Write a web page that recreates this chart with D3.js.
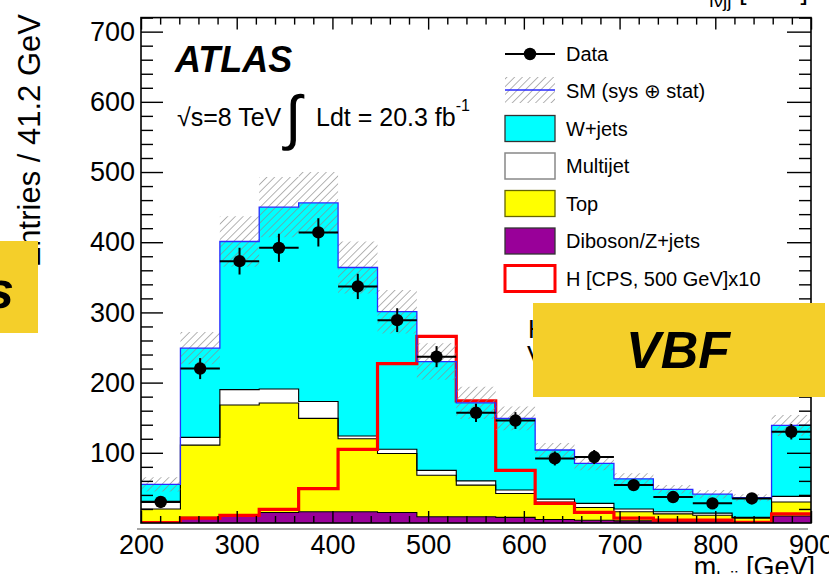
<!DOCTYPE html>
<html><head><meta charset="utf-8">
<script src="https://cdn.jsdelivr.net/npm/d3@7"></script>
<style>
body{margin:0;background:#fff;}
svg{display:block;}
text{font-family:"Liberation Sans",Arial,Helvetica,sans-serif;}
</style></head>
<body>
<svg id="chart" width="829" height="574"></svg>
<script>
// ---------- data ----------
const binEdges = [200, 241.2, 282.4, 323.5, 364.7, 405.9, 447.1, 488.2, 529.4, 570.6, 611.8, 652.9, 694.1, 735.3, 776.5, 817.6, 858.8, 900];
const diboson  = [1, 8, 11, 15, 16, 16, 15, 9, 9, 8, 5, 4, 3, 3, 3, 2, 10];
const topQuark = [19, 103, 157, 156, 133, 104, 84, 59, 45, 34, 25, 18, 13, 10, 8, 5, 20];
const multijet = [11, 11, 22, 20, 24, 4, 6, 7, 6, 5, 4, 6, 4, 3, 3, 1, 8];
const wjets    = [24, 127, 211, 259, 283, 240, 196, 155, 111, 102, 70, 57, 43, 32, 27, 28, 101];
const smErr    = [10, 23, 36, 43, 44, 37, 31, 26, 23, 17, 10, 10, 8, 6, 6, 5, 15];
const dataVals = [30, 220, 373, 392, 414, 337, 289, 237, 157, 146, 92, 94, 54, 37, 28, 35, 130];
const dataErr  = [6, 15, 19, 20, 20, 18, 17, 15, 13, 12, 10, 10, 7, 6, 5, 6, 11];
const signalX10 = [0.5, 7, 11, 19.5, 49, 105, 227, 266, 174, 75, 28, 15, 7, 4, 4, 1, 13];
const xTicks = [200, 300, 400, 500, 600, 700, 800, 900];
const yTicks = [100, 200, 300, 400, 500, 600, 700];
const legendLabels = ["Data", "SM (sys \u2295 stat)", "W+jets", "Multijet", "Top", "Diboson/Z+jets", "H [CPS, 500 GeV]x10"];
const stackKeys = ["diboson", "top", "multijet", "wjets"];
const stackColors = {diboson: "#990099", top: "#ffff00", multijet: "#ffffff", wjets: "#00ffff"};

// ---------- layout ----------
const svg = d3.select("#chart");
svg.append("rect").attr("width", 829).attr("height", 574).attr("fill", "#fff");
const X0 = 141, X1 = 811, Y0 = 523, Y1 = 17.6;
const x = d3.scaleLinear().domain([200, 900]).range([X0, X1]);
const y = d3.scaleLinear().domain([0, 720]).range([Y0, Y1]);

const defs = svg.append("defs");
const pat = defs.append("pattern").attr("id", "hatch").attr("patternUnits", "userSpaceOnUse")
  .attr("width", 5.5).attr("height", 5.5).attr("patternTransform", "rotate(45)");
pat.append("line").attr("x1", 0).attr("y1", 0).attr("x2", 0).attr("y2", 5.5)
  .attr("stroke", "#8c8c8c").attr("stroke-width", 1.3);
defs.append("clipPath").attr("id", "frameclip").append("rect")
  .attr("x", X0).attr("y", Y1).attr("width", X1 - X0).attr("height", Y0 - Y1);

const bins = binEdges.slice(0, -1).map((lo, i) => ({
  lo, hi: binEdges[i + 1],
  diboson: diboson[i], top: topQuark[i], multijet: multijet[i], wjets: wjets[i],
  err: smErr[i], data: dataVals[i], derr: dataErr[i], sig: signalX10[i]
}));
bins.forEach(b => b.total = b.diboson + b.top + b.multijet + b.wjets);

const series = d3.stack().keys(stackKeys)(bins);
const stepPts = (f0, f1) => bins.flatMap((b, i) => [
  {x: b.lo, y0: f0(b, i), y1: f1(b, i)}, {x: b.hi, y0: f0(b, i), y1: f1(b, i)}]);
const area = d3.area().x(d => x(d.x)).y0(d => y(d.y0)).y1(d => y(d.y1));
const line = d3.line().x(d => x(d.x)).y(d => y(d.y1));

const plot = svg.append("g").attr("clip-path", "url(#frameclip)");

series.forEach(s => {
  const pts = stepPts((b, i) => s[i][0], (b, i) => s[i][1]);
  plot.append("path").attr("d", area(pts)).attr("fill", stackColors[s.key]);
});
series.forEach(s => {
  if (s.key === "wjets") return;
  const pts = stepPts((b, i) => s[i][0], (b, i) => s[i][1]);
  plot.append("path").attr("d", line(pts)).attr("fill", "none").attr("stroke", "#000").attr("stroke-width", 1.1);
});

// signal
plot.append("path").attr("d", line(stepPts(b => 0, b => b.sig)))
  .attr("fill", "none").attr("stroke", "#ff0000").attr("stroke-width", 3.2).attr("stroke-linejoin", "miter");

// hatch band
plot.append("path").attr("d", area(stepPts(b => b.total - b.err, b => b.total + b.err)))
  .attr("fill", "url(#hatch)");
// total line
plot.append("path").attr("d", line(stepPts(b => 0, b => b.total)))
  .attr("fill", "none").attr("stroke", "#2a2aff").attr("stroke-width", 1.3);

// data
const dg = plot.append("g");
bins.forEach(b => {
  const cx = x((b.lo + b.hi) / 2);
  dg.append("line").attr("x1", x(b.lo)).attr("x2", x(b.hi)).attr("y1", y(b.data)).attr("y2", y(b.data))
    .attr("stroke", "#000").attr("stroke-width", 2);
  dg.append("line").attr("x1", cx).attr("x2", cx).attr("y1", y(b.data - b.derr)).attr("y2", y(b.data + b.derr))
    .attr("stroke", "#000").attr("stroke-width", 2);
  dg.append("circle").attr("cx", cx).attr("cy", y(b.data)).attr("r", 6.2).attr("fill", "#000");
});

// ---------- axes (ticks inside frame) ----------
function styleAxis(g) {
  g.select(".domain").remove();
  g.selectAll(".tick line").attr("stroke", "#000").attr("stroke-width", 1.4);
  g.selectAll("text").attr("font-family", '"Liberation Sans",Arial,sans-serif').attr("font-size", 27).attr("fill", "#000");
}
const xMinor = d3.range(200, 901, 20).filter(v => v % 100 !== 0);
const yMinor = d3.range(0, 721, 20).filter(v => v % 100 !== 0);

svg.append("g").attr("transform", `translate(0,${Y0})`)
  .call(d3.axisBottom(x).tickValues(xTicks).tickSize(-12).tickPadding(12).tickFormat(d3.format("d"))).call(styleAxis);
svg.append("g").attr("transform", `translate(0,${Y0})`)
  .call(d3.axisBottom(x).tickValues(xMinor).tickSize(-7).tickFormat("")).call(styleAxis);
svg.append("g").attr("transform", `translate(0,${Y1})`)
  .call(d3.axisTop(x).tickValues(xTicks).tickSize(-12).tickFormat("")).call(styleAxis);
svg.append("g").attr("transform", `translate(0,${Y1})`)
  .call(d3.axisTop(x).tickValues(xMinor).tickSize(-7).tickFormat("")).call(styleAxis);
svg.append("g").attr("transform", `translate(${X0},0)`)
  .call(d3.axisLeft(y).tickValues(yTicks).tickSize(-22).tickPadding(6).tickFormat(d3.format("d"))).call(styleAxis);
svg.append("g").attr("transform", `translate(${X0},0)`)
  .call(d3.axisLeft(y).tickValues(yMinor).tickSize(-12).tickFormat("")).call(styleAxis);
svg.append("g").attr("transform", `translate(${X1},0)`)
  .call(d3.axisRight(y).tickValues(yTicks).tickSize(-24).tickFormat("")).call(styleAxis);
svg.append("g").attr("transform", `translate(${X1},0)`)
  .call(d3.axisRight(y).tickValues(yMinor).tickSize(-12).tickFormat("")).call(styleAxis);

svg.append("rect").attr("x", X0).attr("y", Y1).attr("width", X1 - X0).attr("height", Y0 - Y1)
  .attr("fill", "none").attr("stroke", "#000").attr("stroke-width", 1.6);
svg.append("line").attr("x1", 137).attr("x2", 808).attr("y1", 529).attr("y2", 529)
  .attr("stroke", "#8a8a8a").attr("stroke-width", 1.5);

// axis titles
svg.append("text").attr("transform", "translate(40,14) rotate(-90)").attr("text-anchor", "end")
  .attr("font-size", 31).text("Entries / 41.2 GeV");
const xt = svg.append("text").attr("x", 815).attr("y", 576).attr("text-anchor", "end").attr("font-size", 27);
xt.append("tspan").text("m");
xt.append("tspan").attr("font-size", 19).attr("dy", 8).text("l\u03bdjj");
xt.append("tspan").attr("dy", -8).text(" [GeV]");
const tt = svg.append("text").attr("x", 808).attr("y", -1).attr("text-anchor", "end").attr("font-size", 27);
tt.append("tspan").text("m");
tt.append("tspan").attr("font-size", 19).attr("dy", 8).text("l\u03bdjj");
tt.append("tspan").attr("dy", -8).text(" [GeV]");

// ATLAS label
svg.append("text").attr("x", 175).attr("y", 72).attr("font-size", 36).attr("font-weight", "bold")
  .attr("font-style", "italic").text("ATLAS");
const lum = svg.append("text").attr("x", 177).attr("y", 126).attr("font-size", 25);
lum.append("tspan").text("\u221as=8 TeV ");
svg.append("text").attr("x", 285).attr("y", 138).attr("font-size", 60).attr("font-family", '"DejaVu Sans",sans-serif').text("\u222b");
const lum2 = svg.append("text").attr("x", 316).attr("y", 126).attr("font-size", 25);
lum2.append("tspan").text("Ldt = 20.3 fb");
lum2.append("tspan").attr("font-size", 16).attr("dy", -15).text("-1");

// legend
const lg = svg.append("g");
const ly = [54, 91, 128.5, 166, 203.5, 241, 278.5];
const bx = 505, bw = 50, bh = 26;
legendLabels.forEach((t, i) => {
  lg.append("text").attr("x", 566).attr("y", ly[i]).attr("dy", "0.36em").attr("font-size", 20).text(t);
});
lg.append("line").attr("x1", bx).attr("x2", bx + bw).attr("y1", ly[0]).attr("y2", ly[0]).attr("stroke", "#000").attr("stroke-width", 2);
lg.append("circle").attr("cx", bx + bw / 2).attr("cy", ly[0]).attr("r", 6.2);
lg.append("rect").attr("x", bx).attr("y", ly[1] - bh / 2 - 1).attr("width", bw).attr("height", bh).attr("fill", "url(#hatch)");
lg.append("line").attr("x1", bx).attr("x2", bx + bw).attr("y1", ly[1] - 1).attr("y2", ly[1] - 1).attr("stroke", "#2a2aff").attr("stroke-width", 1.3);
const boxStyles = [
  {fill: stackColors.wjets, stroke: "#333", sw: 1.3},
  {fill: stackColors.multijet, stroke: "#888", sw: 1.5},
  {fill: stackColors.top, stroke: "#666600", sw: 1.3},
  {fill: stackColors.diboson, stroke: "#333", sw: 1.3},
  {fill: "#fff", stroke: "#ff0000", sw: 3}
];
boxStyles.forEach((s, k) => {
  const i = k + 2;
  lg.append("rect").attr("x", bx).attr("y", ly[i] - bh / 2).attr("width", bw).attr("height", bh)
    .attr("fill", s.fill).attr("stroke", s.stroke).attr("stroke-width", s.sw);
});

// slide overlays
svg.append("text").attr("x", 528).attr("y", 338).attr("font-size", 26).text("H");
svg.append("text").attr("x", 527).attr("y", 364).attr("font-size", 26).text("V");
svg.append("rect").attr("x", 533).attr("y", 303).attr("width", 292).attr("height", 94).attr("fill", "#f4cf2a");
svg.append("text").attr("x", 678).attr("y", 350).attr("dy", "0.35em").attr("text-anchor", "middle")
  .attr("font-family", '"Open Sans",sans-serif').attr("font-style", "italic").attr("font-weight", 600)
  .attr("font-size", 52).text("VBF");
svg.append("rect").attr("x", 0).attr("y", 241).attr("width", 38).attr("height", 92).attr("fill", "#f4cf2a");
svg.append("text").attr("x", 14).attr("y", 290).attr("dy", "0.35em").attr("text-anchor", "end")
  .attr("font-family", '"Open Sans",sans-serif').attr("font-style", "italic").attr("font-weight", 600)
  .attr("font-size", 52).text("s");
</script>
</body></html>
